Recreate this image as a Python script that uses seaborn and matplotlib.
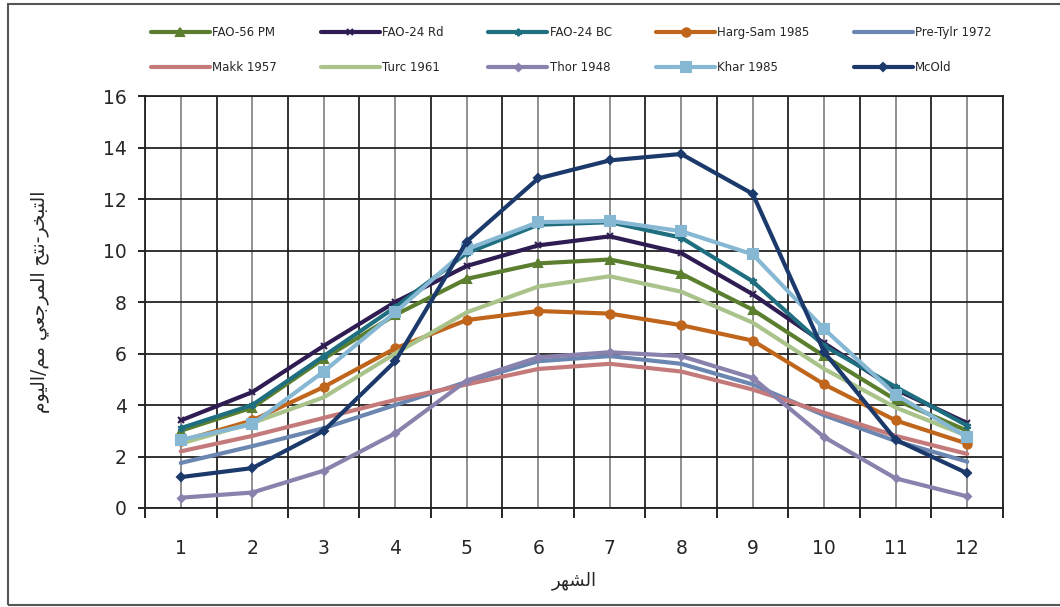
import numpy as np
import pandas as pd
import seaborn as sns
import matplotlib.pyplot as plt
from matplotlib.patches import Rectangle

months = list(range(1, 13))

fao56_pm = [3.0, 3.9, 5.8, 7.5, 8.9, 9.5, 9.65, 9.1, 7.7, 5.9, 4.2, 3.0]
fao24_rd = [3.4, 4.5, 6.3, 8.0, 9.4, 10.2, 10.55, 9.9, 8.3, 6.4, 4.6, 3.3]
fao24_bc = [3.1, 4.0, 5.9, 7.8, 9.9, 11.0, 11.1, 10.5, 8.8, 6.3, 4.7, 3.2]
harg_sam = [2.6, 3.4, 4.7, 6.2, 7.3, 7.65, 7.55, 7.1, 6.5, 4.8, 3.4, 2.5]
pre_tylr = [1.75, 2.4, 3.1, 4.0, 4.9, 5.7, 5.9, 5.6, 4.8, 3.6, 2.6, 1.8]
makk = [2.2, 2.8, 3.5, 4.2, 4.8, 5.4, 5.6, 5.3, 4.6, 3.7, 2.8, 2.1]
turc = [2.5, 3.3, 4.3, 6.0, 7.6, 8.6, 9.0, 8.4, 7.2, 5.4, 3.9, 2.8]
thor = [0.4, 0.6, 1.45, 2.9, 4.95, 5.85, 6.05, 5.9, 5.05, 2.75, 1.15, 0.45]
khar = [2.65, 3.25, 5.3, 7.6, 10.05, 11.1, 11.15, 10.75, 9.85, 6.95, 4.4, 2.75]
mcold = [1.2, 1.55, 3.0, 5.7, 10.35, 12.8, 13.5, 13.75, 12.2, 6.05, 2.65, 1.35]

names = ['FAO-56 PM', 'FAO-24 Rd', 'FAO-24 BC', 'Harg-Sam 1985', 'Pre-Tylr 1972',
         'Makk 1957', 'Turc 1961', 'Thor 1948', 'Khar 1985', 'McOld']
values = [fao56_pm, fao24_rd, fao24_bc, harg_sam, pre_tylr,
          makk, turc, thor, khar, mcold]
colors = ['#5b7f2e', '#2e1c52', '#1f6f80', '#c0661c', '#6b86b0',
          '#c47a7a', '#a9c38b', '#8a82ad', '#86b8d4', '#1b3a6b']
markers = ['^', 'x', (6, 2, 0), 'o', '+', None, None, 'D', 's', 'D']
msizes = [9, 8, 9, 10, 6, 0, 0, 6, 11, 7]

df = pd.DataFrame({'month': months * len(names),
                   'value': sum(values, []),
                   'series': np.repeat(names, len(months))})

# Arabic labels, shaped by hand (presentation forms, visual order)
ylab_logical = ('\uFE8D\uFEDF\uFE98\uFE92\uFEA8\uFEAE-\uFEE7\uFE98\uFEA2 '
                '\uFE8D\uFEDF\uFEE4\uFEAE\uFE9F\uFECC\uFEF2 '
                '\uFEE3\uFEE2/\uFE8D\uFEDF\uFEF4\uFEEE\uFEE1')
xlab_logical = '\uFE8D\uFEDF\uFEB8\uFEEC\uFEAE'
ylabel = ylab_logical[::-1]
xlabel = xlab_logical[::-1]

sns.set_style('white')
plt.rcParams['font.family'] = ['DejaVu Sans']

fig = plt.figure(figsize=(10.6, 6.07), dpi=100)
ax = fig.add_axes([0.1368, 0.1631, 0.8094, 0.6787])

for name, col, mk, ms in zip(names, colors, markers, msizes):
    sub = df[df['series'] == name]
    kw = dict(marker=mk, markersize=ms, markeredgecolor=col, markeredgewidth=1.5) if mk else {}
    sns.lineplot(data=sub, x='month', y='value', color=col, linewidth=3.0,
                 ax=ax, label=name, zorder=3, **kw)

ax.set_xlim(0.5, 12.5)
ax.set_ylim(0, 16)
ax.set_xticks(np.arange(0.5, 13, 1))
ax.set_xticklabels([])
ax.set_xticks(months, minor=True)
ax.set_xticklabels([str(m) for m in months], minor=True, fontsize=13.5)
ax.set_yticks(np.arange(0, 17, 2))
ax.set_yticklabels([str(v) for v in range(0, 17, 2)], fontsize=13.5)
ax.tick_params(axis='x', which='major', direction='out', length=7, width=1.2, color='black', bottom=True)
ax.tick_params(axis='x', which='minor', length=0, pad=22)
ax.tick_params(axis='y', direction='out', length=5, width=1.2, color='black', left=True, pad=8)

ax.grid(which='major', axis='both', color='#222222', linewidth=1.3)
ax.grid(which='minor', axis='x', color='#888888', linewidth=1.3)
for s in ax.spines.values():
    s.set_color('#222222')
    s.set_linewidth(1.3)

ax.set_xlabel(xlabel, fontsize=13, labelpad=10)
ax.set_ylabel(ylabel, fontsize=13.5, labelpad=38)

handles, labels = ax.get_legend_handles_labels()
ax.legend_.remove()
order = [0, 5, 1, 6, 2, 7, 3, 8, 4, 9]
for h in handles:
    if h.get_marker() not in (None, 'None', ''):
        h.set_markersize(h.get_markersize() * 0.6)
fig.legend([handles[i] for i in order], [labels[i] for i in order],
           loc='upper left', bbox_to_anchor=(0.132, 0.975), ncol=5,
           fontsize=8.5, frameon=False, handlelength=5.0, handletextpad=0.2,
           columnspacing=3.75, labelspacing=1.9)

fig.patches.append(Rectangle((0.008, 0.003), 1.2, 0.99, transform=fig.transFigure,
                             fill=False, edgecolor='#555555', linewidth=1.5))

fig.savefig('out.png', dpi=100)
